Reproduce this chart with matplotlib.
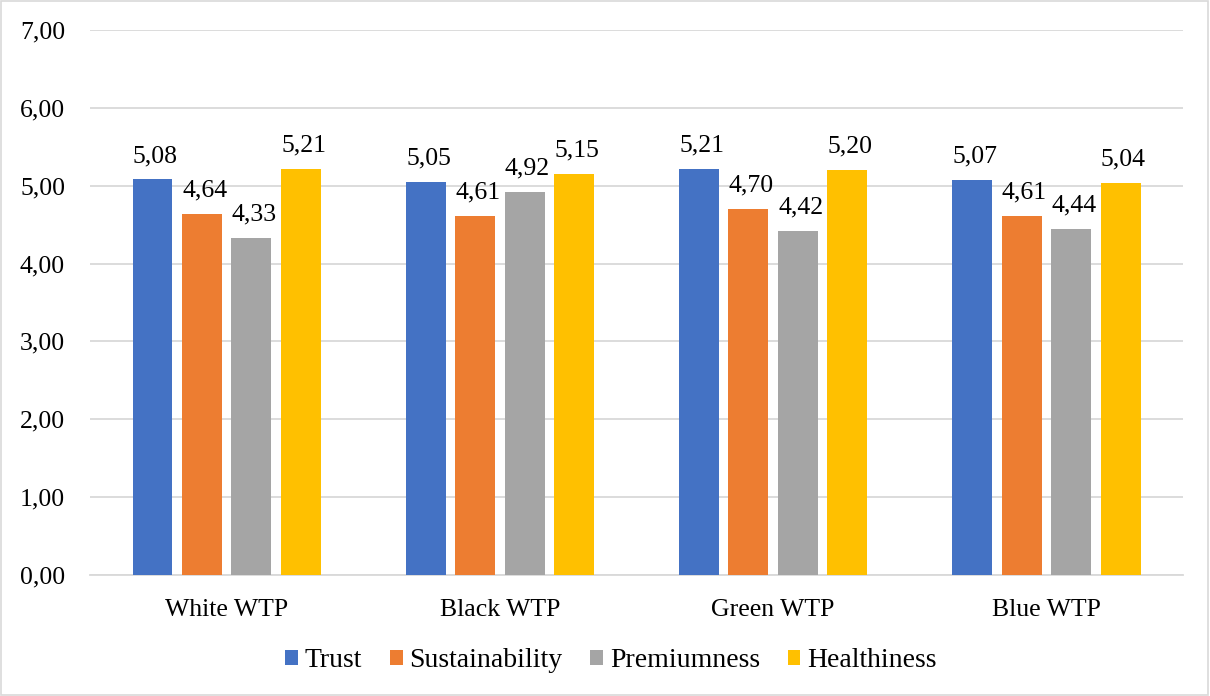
import matplotlib
matplotlib.use("Agg")
import matplotlib.pyplot as plt
import numpy as np
from matplotlib.patches import Rectangle

plt.rcParams["font.family"] = ["Liberation Serif", "DejaVu Serif"]

groups = ["White WTP", "Black WTP", "Green WTP", "Blue WTP"]
series = ["Trust", "Sustainability", "Premiumness", "Healthiness"]
colors = ["#4472C4", "#ED7D31", "#A5A5A5", "#FFC000"]

trust = [5.08, 5.05, 5.21, 5.07]
sustainability = [4.64, 4.61, 4.70, 4.61]
premiumness = [4.33, 4.92, 4.42, 4.44]
healthiness = [5.21, 5.15, 5.20, 5.04]
values = [trust, sustainability, premiumness, healthiness]

fs = 18.5

fig = plt.figure(figsize=(12.1, 6.96), dpi=100)
ax = fig.add_axes([0.0744, 0.1739, 0.9033, 0.7830])

x = np.arange(len(groups))
pitch = 0.181
width = 0.146
for i, (name, vals, col) in enumerate(zip(series, values, colors)):
    pos = x + (i - 1.5) * pitch
    bars = ax.bar(pos, vals, width=width, color=col, label=name, zorder=3)
    for b, v in zip(bars, vals):
        ax.annotate(f"{v:.2f}".replace(".", ","),
                    (b.get_x() + b.get_width() / 2, v),
                    xytext=(2, 9), textcoords="offset points",
                    ha="center", va="bottom", fontsize=fs)

ax.set_xlim(-0.5, 3.5)
ax.set_ylim(0, 7)
ax.set_yticks(np.arange(0, 8, 1))
ax.set_yticklabels([f"{t:.2f}".replace(".", ",") for t in range(8)], fontsize=fs)
ax.set_xticks(x)
ax.set_xticklabels(groups, fontsize=fs)
ax.tick_params(axis="both", length=0)
ax.tick_params(axis="y", pad=18)
ax.tick_params(axis="x", pad=17)
ax.grid(axis="y", color="#D9D9D9", linewidth=1.3, zorder=0)
for s in ["top", "right", "left"]:
    ax.spines[s].set_visible(False)
ax.spines["bottom"].set_color("#D9D9D9")
ax.spines["bottom"].set_linewidth(1.3)

leg = fig.legend(loc="center", bbox_to_anchor=(0.505, 0.051), ncol=4, frameon=False,
                 fontsize=20, handlelength=0.45, handleheight=0.45,
                 handletextpad=0.25, columnspacing=1.0)

# light border round the whole figure
fig.patches.append(Rectangle((0.001, 0.001), 0.997, 0.997, transform=fig.transFigure,
                             fill=False, edgecolor="#D9D9D9", linewidth=1.2))

fig.savefig("out.png", dpi=100)
